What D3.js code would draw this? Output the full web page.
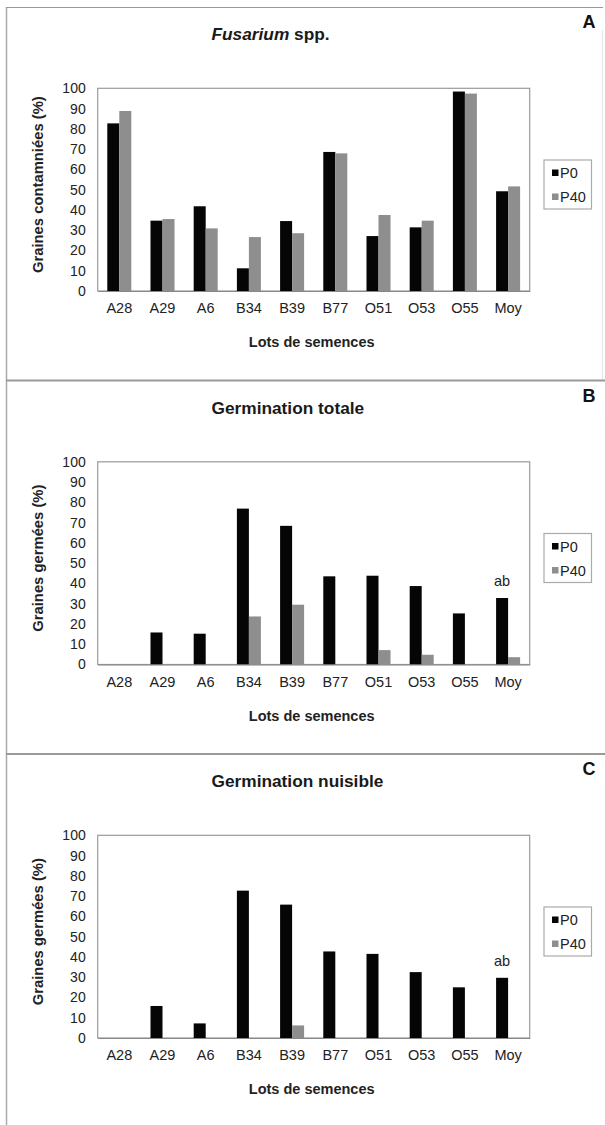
<!DOCTYPE html>
<html>
<head>
<meta charset="utf-8">
<script src="https://cdn.jsdelivr.net/npm/d3@7"></script>
<style>
  html, body { margin: 0; padding: 0; background: #fff; }
  svg { display: block; font-family: "Liberation Sans", Arial, sans-serif; }
</style>
</head>
<body>
<svg id="chart" width="605" height="1125"></svg>
<script>
// ---------- data ----------
const categories = ["A28", "A29", "A6", "B34", "B39", "B77", "O51", "O53", "O55", "Moy"];
const seriesNames = ["P0", "P40"];
const yTicks = [0, 10, 20, 30, 40, 50, 60, 70, 80, 90, 100];

const fusariumP0  = [82.7, 34.7, 41.8, 11.2, 34.5, 68.6, 27.1, 31.4, 98.4, 49.2];
const fusariumP40 = [88.8, 35.5, 30.9, 26.6, 28.5, 67.9, 37.5, 34.7, 97.4, 51.6];

const totaleP0  = [0, 15.8, 15.2, 76.9, 68.4, 43.5, 43.8, 38.7, 25.2, 32.8];
const totaleP40 = [0, 0, 0, 23.7, 29.5, 0, 7.1, 4.8, 0, 3.6];

const nuisibleP0  = [0, 15.8, 7.2, 72.7, 65.8, 42.7, 41.5, 32.5, 25.0, 29.7];
const nuisibleP40 = [0, 0, 0, 0, 6.2, 0, 0, 0, 0, 0];

const panelLetters = ["A", "B", "C"];
const panelTitles = ["Fusarium spp.", "Germination totale", "Germination nuisible"];
const yTitles = ["Graines contamniées (%)", "Graines germées (%)", "Graines germées (%)"];
const xTitle = "Lots de semences";
const annotationText = ["", "ab", "ab"];   // label above Moy / P0
const annotationCategory = "Moy";

const panelData = [
  [fusariumP0, fusariumP40],
  [totaleP0, totaleP40],
  [nuisibleP0, nuisibleP40]
];

// ---------- layout ----------
const colors = { P0: "#050505", P40: "#8e8e8e" };
const panelTops = [7, 380.5, 754];
const plotLeft = 97.7, plotRight = 529.7;
const plotTopOff = 81.3, plotH = 202.7;

const svg = d3.select("#chart");

// figure borders
svg.append("line").attr("x1", 6.5).attr("x2", 6.5).attr("y1", 7).attr("y2", 1125)
  .attr("stroke", "#aaa").attr("stroke-width", 1.5);
svg.append("line").attr("x1", 6).attr("x2", 603).attr("y1", 7.5).attr("y2", 7.5)
  .attr("stroke", "#999").attr("stroke-width", 1.2);
svg.append("line").attr("x1", 602.5).attr("x2", 602.5).attr("y1", 30).attr("y2", 380)
  .attr("stroke", "#e4e4e4").attr("stroke-width", 1);
[380.5, 754].forEach(y => {
  svg.append("line").attr("x1", 6).attr("x2", 605).attr("y1", y).attr("y2", y)
    .attr("stroke", "#999").attr("stroke-width", 2);
});

panelData.forEach((series, pi) => {
  const top = panelTops[pi];
  const g = svg.append("g");
  const plotTop = top + plotTopOff;
  const plotBottom = plotTop + plotH;

  const x = d3.scaleBand().domain(categories).range([plotLeft, plotRight])
    .paddingInner(0.444).paddingOuter(0.222);
  const xs = d3.scaleBand().domain(seriesNames).range([0, x.bandwidth()]);
  const y = d3.scaleLinear().domain([0, 100]).range([plotBottom, plotTop]);

  // plot frame
  g.append("rect").attr("x", plotLeft).attr("y", plotTop)
    .attr("width", plotRight - plotLeft).attr("height", plotH)
    .attr("fill", "none").attr("stroke", "#9a9a9a").attr("stroke-width", 1.2);

  // bars
  seriesNames.forEach((s, si) => {
    g.append("g").selectAll("rect")
      .data(categories.map((c, i) => ({ c, v: series[si][i] })))
      .join("rect")
      .attr("x", d => x(d.c) + xs(s))
      .attr("y", d => y(d.v))
      .attr("width", xs.bandwidth())
      .attr("height", d => y(0) - y(d.v))
      .attr("fill", colors[s]);
  });

  // y axis
  const yAxis = d3.axisLeft(y).tickValues(yTicks).tickSize(0).tickPadding(12);
  const ya = g.append("g").attr("transform", `translate(${plotLeft},0)`).call(yAxis);
  ya.select(".domain").remove();
  ya.selectAll("text").attr("font-size", 14).attr("fill", "#222")
    .attr("font-family", "Liberation Sans, Arial, sans-serif");

  // x axis
  const xAxis = d3.axisBottom(x).tickSize(0).tickPadding(12);
  const xa = g.append("g").attr("transform", `translate(0,${plotBottom})`).call(xAxis);
  xa.select(".domain").attr("stroke", "#888").attr("stroke-width", 1.2);
  xa.selectAll("text").attr("font-size", 14.5).attr("fill", "#222")
    .attr("font-family", "Liberation Sans, Arial, sans-serif");

  // axis titles
  g.append("text")
    .attr("transform", `translate(43,${(plotTop + plotBottom) / 2 - 5}) rotate(-90)`)
    .attr("text-anchor", "middle").attr("font-size", 14.8).attr("font-weight", "bold")
    .attr("fill", "#222").text(yTitles[pi]);
  g.append("text").attr("x", (plotLeft + plotRight) / 2 - 2).attr("y", plotBottom + 56)
    .attr("text-anchor", "middle").attr("font-size", 14.5).attr("font-weight", "bold")
    .attr("fill", "#222").text(xTitle);

  // title
  const t = g.append("text").attr("x", 211.5).attr("y", top + 33)
    .attr("font-size", 17.3).attr("font-weight", "bold").attr("fill", "#1a1a1a");
  if (pi === 0) {
    const parts = panelTitles[0].split(" ");
    t.append("tspan").attr("font-style", "italic").text(parts[0]);
    t.append("tspan").text(" " + parts.slice(1).join(" "));
  } else {
    t.text(panelTitles[pi]);
  }

  // panel letter
  g.append("text").attr("x", 589).attr("y", top + 21).attr("text-anchor", "middle")
    .attr("font-size", 18).attr("font-weight", "bold").attr("fill", "#111")
    .text(panelLetters[pi]);

  // annotation
  if (annotationText[pi]) {
    const ci = categories.indexOf(annotationCategory);
    g.append("text")
      .attr("x", x(annotationCategory) + xs("P0") + xs.bandwidth() / 2)
      .attr("y", y(series[0][ci]) - 12)
      .attr("text-anchor", "middle").attr("font-size", 14.5).attr("fill", "#222")
      .text(annotationText[pi]);
  }

  // legend
  const lg = g.append("g").attr("transform", `translate(544,${top + 153})`);
  lg.append("rect").attr("x", 0).attr("y", 0).attr("width", 47.5).attr("height", 49)
    .attr("fill", "#fff").attr("stroke", "#aaa").attr("stroke-width", 1.2);
  seriesNames.forEach((s, si) => {
    const cy = 13 + si * 24;
    lg.append("rect").attr("x", 8).attr("y", cy - 3.5).attr("width", 6.5).attr("height", 6.5)
      .attr("fill", colors[s]);
    lg.append("text").attr("x", 16).attr("y", cy).attr("dy", "0.36em")
      .attr("font-size", 14.5).attr("fill", "#222").text(s);
  });
});
</script>
</body>
</html>
